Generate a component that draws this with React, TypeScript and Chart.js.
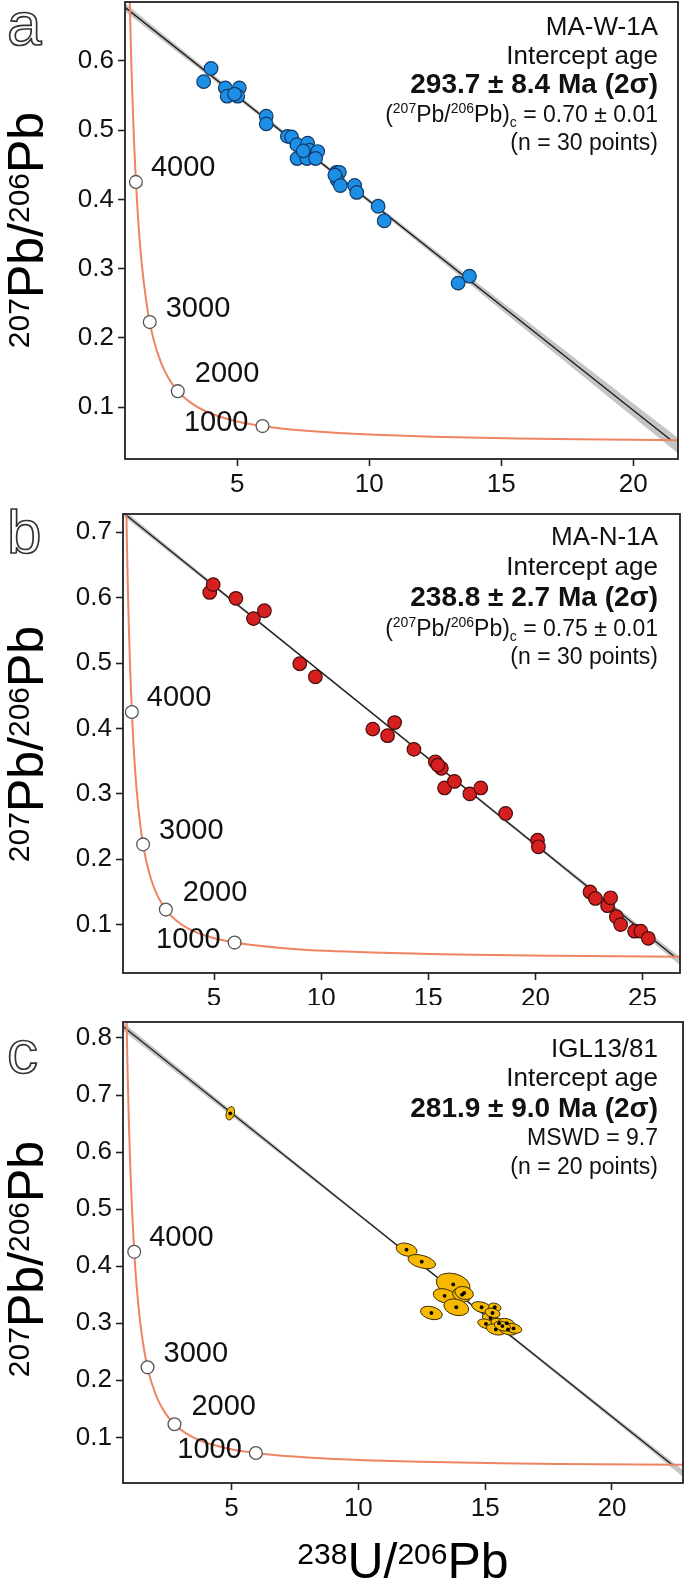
import React, { useEffect, useRef } from "react";
import { Chart, registerables } from "chart.js";
Chart.register(...registerables);

const FONT = '"Liberation Sans", Arial, Helvetica, sans-serif';
Chart.defaults.font.family = FONT;

// ---------- shared: concordia curve (Tera-Wasserburg) ----------
const concordiaX = [0.8532, 0.9044, 0.9318, 0.9604, 0.9902, 1.0215, 1.0887, 1.163, 1.2452, 1.3869, 1.5557, 1.6875, 1.8383, 2.111, 2.3943, 2.7487, 3.2061, 3.8169, 4.8878, 5.9588, 6.6746, 8.718, 10.252, 12.4, 15.621, 17.92, 20.99, 25.29, 31.73];
const concordiaY = [0.8457, 0.735, 0.6855, 0.6396, 0.597, 0.5574, 0.4865, 0.4252, 0.3722, 0.306, 0.2526, 0.2227, 0.1969, 0.1644, 0.142, 0.123, 0.1071, 0.0936, 0.0802, 0.0725, 0.0691, 0.0628, 0.0599, 0.0573, 0.0547, 0.0535, 0.0524, 0.0512, 0.0501];

const ageMarkerX = [5.959, 2.749, 1.6875, 1.163];
const ageMarkerY = [0.0725, 0.123, 0.2227, 0.4252];
const ageLabels = ["1000", "2000", "3000", "4000"];

// ---------- panel a ----------
const xTicksA = [5, 10, 15, 20];
const yTicksA = [0.1, 0.2, 0.3, 0.4, 0.5, 0.6];
const pointsAX = [3.73, 4.01, 4.55, 4.62, 5.08, 5.02, 4.9, 6.1, 6.1, 6.9, 7.06, 7.26, 7.27, 7.67, 7.74, 7.64, 8.05, 7.97, 7.5, 8.76, 8.87, 8.79, 8.7, 8.91, 9.45, 9.53, 10.34, 10.57, 13.37, 13.8];
const pointsAY = [0.57, 0.589, 0.561, 0.549, 0.561, 0.549, 0.552, 0.52, 0.509, 0.491, 0.49, 0.479, 0.459, 0.481, 0.471, 0.459, 0.469, 0.459, 0.47, 0.439, 0.439, 0.428, 0.435, 0.42, 0.42, 0.41, 0.39, 0.369, 0.279, 0.289];
const discordiaAX = [0.75, 21.45];
const discordiaAY = [0.6773, 0.0518];
const envelopeAX = [0.75, 4, 8, 12, 16, 21.7];
const envelopeAUpper = [0.6833, 0.5831, 0.4613, 0.3414, 0.2235, 0.0553];
const envelopeALower = [0.6713, 0.5751, 0.4553, 0.3334, 0.2095, 0.0333];
const sampleA = "MA-W-1A";
const ageTextA = "293.7 ± 8.4 Ma (2σ)";
const commonPbA = " = 0.70 ± 0.01";
const countA = "(n = 30 points)";

// ---------- panel b ----------
const xTicksB = [5, 10, 15, 20, 25];
const yTicksB = [0.1, 0.2, 0.3, 0.4, 0.5, 0.6, 0.7];
const pointsBX = [4.8, 4.96, 6.02, 6.84, 7.35, 9.0, 9.73, 12.41, 13.1, 13.43, 14.33, 15.33, 15.61, 15.76, 16.22, 16.94, 17.45, 18.61, 20.1, 20.14, 22.55, 22.8, 23.37, 23.51, 23.78, 23.98, 24.63, 24.92, 25.27, 15.45];
const pointsBY = [0.608, 0.62, 0.599, 0.568, 0.58, 0.499, 0.479, 0.399, 0.389, 0.409, 0.368, 0.349, 0.339, 0.309, 0.319, 0.3, 0.309, 0.27, 0.229, 0.219, 0.15, 0.14, 0.129, 0.141, 0.112, 0.1, 0.09, 0.09, 0.079, 0.344];
const discordiaBX = [0.75, 26.5];
const discordiaBY = [0.7302, 0.0509];
const envelopeBX = [0.75, 5, 10, 15, 20, 26.75];
const envelopeBUpper = [0.7352, 0.6211, 0.4882, 0.3563, 0.2249, 0.0503];
const envelopeBLower = [0.7252, 0.6151, 0.4842, 0.3523, 0.2199, 0.0383];
const sampleB = "MA-N-1A";
const ageTextB = "238.8 ± 2.7 Ma (2σ)";
const commonPbB = " = 0.75 ± 0.01";
const countB = "(n = 30 points)";

// ---------- panel c ----------
const xTicksC = [5, 10, 15, 20];
const yTicksC = [0.1, 0.2, 0.3, 0.4, 0.5, 0.6, 0.7, 0.8];
const ellipseCX = [4.95, 11.9, 12.5, 13.74, 13.4, 14.09, 13.86, 12.88, 14.86, 15.38, 15.21, 15.03, 15.55, 15.85, 15.42, 15.9, 16.12, 15.29, 14.17, 15.68];
const ellipseCY = [0.668, 0.429, 0.408, 0.368, 0.348, 0.35, 0.328, 0.318, 0.328, 0.328, 0.309, 0.299, 0.3, 0.3, 0.289, 0.289, 0.291, 0.318, 0.353, 0.295];
const ellipseCErrX = [0.16, 0.42, 0.56, 0.68, 0.46, 0.38, 0.5, 0.44, 0.4, 0.25, 0.33, 0.33, 0.33, 0.33, 0.38, 0.38, 0.33, 0.3, 0.37, 0.33];
const ellipseCErrY = [0.012, 0.011, 0.011, 0.019, 0.012, 0.012, 0.014, 0.011, 0.009, 0.007, 0.008, 0.008, 0.008, 0.008, 0.009, 0.009, 0.008, 0.008, 0.011, 0.008];
const discordiaCX = [0.72, 22.37];
const discordiaCY = [0.8202, 0.052];
const envelopeCX = [0.72, 5, 10, 15, 20, 22.8];
const envelopeCUpper = [0.8272, 0.6733, 0.4934, 0.316, 0.1401, 0.0428];
const envelopeCLower = [0.8132, 0.6633, 0.4884, 0.311, 0.1321, 0.0308];
const sampleC = "IGL13/81";
const ageTextC = "281.9 ± 9.0 Ma (2σ)";
const mswdC = "MSWD = 9.7";
const countC = "(n = 20 points)";

// ---------- text helpers ----------
type Run = { t: string; s: number; b?: boolean; dy?: number };
const runFont = (r: Run) => `${r.b ? "bold " : ""}${r.s}px ${FONT}`;

function drawRuns(ctx: CanvasRenderingContext2D, runs: Run[], x: number, y: number, align: "left" | "right" | "center") {
  let w = 0;
  for (const r of runs) {
    ctx.font = runFont(r);
    w += ctx.measureText(r.t).width;
  }
  let cx = align === "right" ? x - w : align === "center" ? x - w / 2 : x;
  ctx.textAlign = "left";
  ctx.textBaseline = "alphabetic";
  for (const r of runs) {
    ctx.font = runFont(r);
    ctx.fillText(r.t, cx, y + (r.dy || 0));
    cx += ctx.measureText(r.t).width;
  }
}

const commonPbRuns = (value: string): Run[] => [
  { t: "(", s: 23 },
  { t: "207", s: 14, dy: -9 },
  { t: "Pb/", s: 23 },
  { t: "206", s: 14, dy: -9 },
  { t: "Pb)", s: 23 },
  { t: "c", s: 14, dy: 5 },
  { t: value, s: 23 },
];

interface PanelCfg {
  height: number;
  padTop: number;
  padRight: number;
  yAxisW: number;
  xAxisH: number;
  xMin: number;
  xMax: number;
  yMin: number;
  yMax: number;
  xTicks: number[];
  yTicks: number[];
  envX: number[];
  envU: number[];
  envL: number[];
  discX: number[];
  discY: number[];
  pointsX?: number[];
  pointsY?: number[];
  pointColor?: string;
  pointBorder?: string;
  ellipses?: boolean;
  letter: string;
  letterBaseline: number;
  titleCenterY: number;
  annotation: Run[][];
  annBaselines: number[];
  xTitle?: boolean;
}

const panels: PanelCfg[] = [
  {
    height: 500, padTop: 2, padRight: 7, yAxisW: 125, xAxisH: 41,
    xMin: 0.75, xMax: 21.7, yMin: 0.025, yMax: 0.685,
    xTicks: xTicksA, yTicks: yTicksA,
    envX: envelopeAX, envU: envelopeAUpper, envL: envelopeALower,
    discX: discordiaAX, discY: discordiaAY,
    pointsX: pointsAX, pointsY: pointsAY, pointColor: "#1e8fe6", pointBorder: "#123a66",
    letter: "a", letterBaseline: 45, titleCenterY: 230,
    annotation: [
      [{ t: sampleA, s: 26 }],
      [{ t: "Intercept age", s: 26 }],
      [{ t: ageTextA, s: 28, b: true }],
      commonPbRuns(commonPbA),
      [{ t: countA, s: 23 }],
    ],
    annBaselines: [35, 64, 93, 122, 150],
  },
  {
    height: 505, padTop: 14, padRight: 5, yAxisW: 123, xAxisH: 32,
    xMin: 0.75, xMax: 26.75, yMin: 0.026, yMax: 0.728,
    xTicks: xTicksB, yTicks: yTicksB,
    envX: envelopeBX, envU: envelopeBUpper, envL: envelopeBLower,
    discX: discordiaBX, discY: discordiaBY,
    pointsX: pointsBX, pointsY: pointsBY, pointColor: "#d61f1f", pointBorder: "#4a0d0d",
    letter: "b", letterBaseline: 53, titleCenterY: 244,
    annotation: [
      [{ t: sampleB, s: 26 }],
      [{ t: "Intercept age", s: 26 }],
      [{ t: ageTextB, s: 28, b: true }],
      commonPbRuns(commonPbB),
      [{ t: countB, s: 23 }],
    ],
    annBaselines: [45, 75, 106, 136, 164],
  },
  {
    height: 576, padTop: 17, padRight: 2, yAxisW: 123, xAxisH: 98,
    xMin: 0.72, xMax: 22.8, yMin: 0.02, yMax: 0.828,
    xTicks: xTicksC, yTicks: yTicksC,
    envX: envelopeCX, envU: envelopeCUpper, envL: envelopeCLower,
    discX: discordiaCX, discY: discordiaCY,
    ellipses: true,
    letter: "c", letterBaseline: 68, titleCenterY: 254,
    annotation: [
      [{ t: sampleC, s: 26 }],
      [{ t: "Intercept age", s: 26 }],
      [{ t: ageTextC, s: 28, b: true }],
      [{ t: mswdC, s: 23 }],
      [{ t: countC, s: 23 }],
    ],
    annBaselines: [52, 81, 112, 140, 169],
    xTitle: true,
  },
];

const zip = (xs: number[], ys: number[]) => xs.map((x, i) => ({ x, y: ys[i] }));

// label offsets relative to age markers (style)
const AGE_LABEL_STYLE = [
  { dx: -14, dy: -3, align: "right" as const },
  { dx: 17, dy: -17, align: "left" as const },
  { dx: 16, dy: -13, align: "left" as const },
  { dx: 15, dy: -14, align: "left" as const },
];
const ELL_ROT = (15 * Math.PI) / 180;

function Panel({ cfg }: { cfg: PanelCfg }) {
  const ref = useRef<HTMLCanvasElement | null>(null);
  useEffect(() => {
    const canvas = ref.current!;
    const decor = {
      id: "decor",
      afterDatasetsDraw(chart: any) {
        const { ctx, chartArea, scales } = chart;
        const xs = scales.x, ys = scales.y;
        ctx.save();
        if (cfg.ellipses) {
          ctx.beginPath();
          ctx.rect(chartArea.left, chartArea.top, chartArea.right - chartArea.left, chartArea.bottom - chartArea.top);
          ctx.clip();
          for (let i = 0; i < ellipseCX.length; i++) {
            const cx = xs.getPixelForValue(ellipseCX[i]);
            const cy = ys.getPixelForValue(ellipseCY[i]);
            const rx = Math.abs(xs.getPixelForValue(ellipseCX[i] + ellipseCErrX[i]) - cx);
            const ry = Math.abs(ys.getPixelForValue(ellipseCY[i] + ellipseCErrY[i]) - cy);
            ctx.beginPath();
            ctx.ellipse(cx, cy, rx, ry, ELL_ROT, 0, Math.PI * 2);
            ctx.fillStyle = "#f6b900";
            ctx.fill();
            ctx.lineWidth = 1;
            ctx.strokeStyle = "#3b2e05";
            ctx.stroke();
          }
          for (let i = 0; i < ellipseCX.length; i++) {
            const cx = xs.getPixelForValue(ellipseCX[i]);
            const cy = ys.getPixelForValue(ellipseCY[i]);
            ctx.beginPath();
            ctx.arc(cx, cy, 1.9, 0, Math.PI * 2);
            ctx.fillStyle = "#000";
            ctx.fill();
          }
        }
        ctx.restore();
      },
      afterDraw(chart: any) {
        const { ctx, chartArea, scales } = chart;
        const xs = scales.x, ys = scales.y;
        ctx.save();
        // frame
        ctx.strokeStyle = "#222";
        ctx.lineWidth = 1.8;
        ctx.strokeRect(chartArea.left, chartArea.top, chartArea.right - chartArea.left, chartArea.bottom - chartArea.top);
        ctx.fillStyle = "#111";
        // age labels
        for (let i = 0; i < ageLabels.length; i++) {
          const st = AGE_LABEL_STYLE[i];
          const px = xs.getPixelForValue(ageMarkerX[i]) + st.dx;
          const py = ys.getPixelForValue(ageMarkerY[i]) + st.dy;
          ctx.font = `29px ${FONT}`;
          ctx.textAlign = st.align;
          ctx.textBaseline = "middle";
          ctx.fillText(ageLabels[i], px, py);
        }
        // annotation block
        cfg.annotation.forEach((runs, i) => drawRuns(ctx, runs, 658, cfg.annBaselines[i], "right"));
        // panel letter (outlined)
        ctx.font = `62px ${FONT}`;
        ctx.textAlign = "left";
        ctx.textBaseline = "alphabetic";
        ctx.lineWidth = 1.7;
        ctx.strokeStyle = "#333";
        ctx.strokeText(cfg.letter, 7, cfg.letterBaseline);
        // y title rotated
        ctx.save();
        ctx.translate(43, cfg.titleCenterY);
        ctx.rotate(-Math.PI / 2);
        ctx.fillStyle = "#000";
        drawRuns(ctx, [
          { t: "207", s: 30, dy: -14 },
          { t: "Pb/", s: 50 },
          { t: "206", s: 30, dy: -14 },
          { t: "Pb", s: 50 },
        ], 0, 0, "center");
        ctx.restore();
        if (cfg.xTitle) {
          ctx.fillStyle = "#000";
          drawRuns(ctx, [
            { t: "238", s: 30, dy: -14 },
            { t: "U/", s: 50 },
            { t: "206", s: 30, dy: -14 },
            { t: "Pb", s: 50 },
          ], (chartArea.left + chartArea.right) / 2, cfg.height - 3, "center");
        }
        ctx.restore();
      },
    };

    const datasets: any[] = [];
    if (cfg.pointsX && cfg.pointsY) {
      datasets.push({
        type: "scatter",
        data: zip(cfg.pointsX, cfg.pointsY),
        backgroundColor: cfg.pointColor,
        borderColor: cfg.pointBorder,
        borderWidth: 1.2,
        pointRadius: 6.8,
        order: 0,
      });
    }
    datasets.push(
      {
        type: "scatter",
        data: zip(ageMarkerX, ageMarkerY),
        backgroundColor: "#ffffff",
        borderColor: "#555",
        borderWidth: 1.3,
        pointRadius: 6.4,
        order: 1,
      },
      {
        type: "line",
        data: zip(concordiaX, concordiaY),
        borderColor: "#ee8463",
        borderWidth: 2,
        pointRadius: 0,
        cubicInterpolationMode: "monotone",
        fill: false,
        order: 2,
      },
      {
        type: "line",
        data: zip(cfg.discX, cfg.discY),
        borderColor: "#1a1a1a",
        borderWidth: 1.3,
        pointRadius: 0,
        fill: false,
        order: 3,
      },
    );
    const lowerIndex = datasets.length;
    datasets.push({
      type: "line",
      data: zip(cfg.envX, cfg.envL),
      borderWidth: 0,
      borderColor: "rgba(0,0,0,0)",
      pointRadius: 0,
      fill: false,
      tension: 0.3,
      order: 5,
    });
    datasets.push({
      type: "line",
      data: zip(cfg.envX, cfg.envU),
      borderWidth: 0,
      borderColor: "rgba(0,0,0,0)",
      backgroundColor: "rgba(140,140,140,0.5)",
      pointRadius: 0,
      fill: lowerIndex,
      tension: 0.3,
      order: 4,
    });

    const tickGrid = {
      display: true,
      drawOnChartArea: false,
      drawTicks: true,
      tickLength: 7,
      tickWidth: 1.6,
      tickColor: "#222",
    };

    const chart = new Chart(canvas, {
      type: "scatter",
      data: { datasets },
      options: {
        animation: false,
        responsive: false,
        events: [],
        layout: { autoPadding: false, padding: { top: cfg.padTop, right: cfg.padRight, left: 0, bottom: 0 } },
        plugins: { legend: { display: false }, tooltip: { enabled: false } },
        scales: {
          x: {
            type: "linear",
            min: cfg.xMin,
            max: cfg.xMax,
            afterBuildTicks: (s: any) => {
              s.ticks = cfg.xTicks.map((v) => ({ value: v }));
            },
            afterFit: (s: any) => {
              s.height = cfg.xAxisH;
              s.paddingLeft = 0;
              s.paddingRight = 0;
              s.paddingTop = 0;
              s.paddingBottom = 0;
            },
            grid: tickGrid,
            border: { display: false },
            ticks: {
              autoSkip: false,
              maxRotation: 0,
              padding: 3,
              color: "#111",
              font: { size: 26, family: FONT },
              callback: (v: any) => String(v),
            },
          },
          y: {
            type: "linear",
            min: cfg.yMin,
            max: cfg.yMax,
            afterBuildTicks: (s: any) => {
              s.ticks = cfg.yTicks.map((v) => ({ value: v }));
            },
            afterFit: (s: any) => {
              s.width = cfg.yAxisW;
              s.paddingLeft = 0;
              s.paddingRight = 0;
              s.paddingTop = 0;
              s.paddingBottom = 0;
            },
            grid: tickGrid,
            border: { display: false },
            ticks: {
              autoSkip: false,
              padding: 4,
              color: "#111",
              font: { size: 26, family: FONT },
              callback: (v: any) => Number(v).toFixed(1),
            },
          },
        },
      } as any,
      plugins: [decor],
    });
    return () => chart.destroy();
  }, [cfg]);
  return <canvas ref={ref} width={685} height={cfg.height} style={{ display: "block", width: 685, height: cfg.height }} />;
}

export default function App() {
  return (
    <div style={{ position: "absolute", left: 0, top: 0, width: 685, height: 1581, background: "#fff" }}>
      {panels.map((p, i) => (
        <Panel key={i} cfg={p} />
      ))}
    </div>
  );
}
